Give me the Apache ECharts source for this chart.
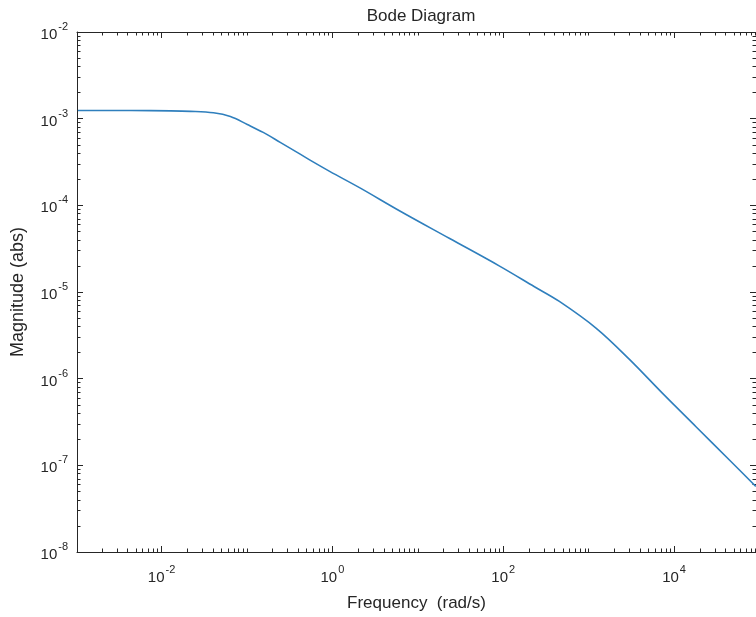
<!DOCTYPE html>
<html>
<head>
<meta charset="utf-8">
<title>Bode Diagram</title>
<script src="https://cdn.jsdelivr.net/npm/echarts@6/dist/echarts.min.js"></script>
<style>
  html, body { margin: 0; padding: 0; background: #ffffff; }
  #chart { width: 756px; height: 617px; }
</style>
</head>
<body>
<div id="chart"></div>
<script>
// Frequency response samples: angular frequency (rad/s) and magnitude (abs)
const frequency = [
  0.001047, 0.00435, 0.01274, 0.0218, 0.0405, 0.0639, 0.1009, 0.155,
  0.245, 0.387, 0.594, 0.939, 2.10, 6.16, 23.6, 90.6,
  232, 454, 1228, 2982, 7239, 18055, 43840, 90570
];
const magnitude = [
  1.241e-3, 1.241e-3, 1.231e-3, 1.215e-3, 1.168e-3, 1.059e-3, 8.57e-4, 6.94e-4,
  5.33e-4, 4.09e-4, 3.17e-4, 2.45e-4, 1.59e-4, 8.61e-5, 4.14e-5, 1.99e-5,
  1.15e-5, 7.78e-6, 3.81e-6, 1.681e-6, 6.85e-7, 2.79e-7, 1.166e-7, 5.72e-8
];

// Decade exponents that carry a tick label
const xLabelExponents = [-2, 0, 2, 4];
const yLabelExponents = [-8, -7, -6, -5, -4, -3, -2];

// Visible range of each axis, in decades
const xRange = [-2.990, 4.959];
const yRange = [-8, -2];

// Decade ticks and 2..9 sub-decade ticks inside a range (log10 units)
function decadeTicks(lo, hi) {
  const out = [];
  for (let d = Math.floor(lo); d <= Math.ceil(hi); d++) {
    if (d >= lo - 1e-9 && d <= hi + 1e-9) out.push(d);
  }
  return out;
}
function subDecadeTicks(lo, hi) {
  const out = [];
  for (let d = Math.floor(lo) - 1; d <= Math.ceil(hi); d++) {
    for (let k = 2; k <= 9; k++) {
      const v = d + Math.log10(k);
      if (v > lo && v < hi) out.push(v);
    }
  }
  return out;
}

const xMinorVals = subDecadeTicks(xRange[0], xRange[1]).concat(
  decadeTicks(xRange[0], xRange[1]).filter(v => xLabelExponents.indexOf(v) < 0));
const yMinorVals = subDecadeTicks(yRange[0], yRange[1]);

const INK = '#262626';
const FONT = '"Liberation Sans", Arial, Helvetica, sans-serif';

// "10" with a raised exponent
const powerRich = {
  b: { fontSize: 15, fontFamily: FONT, color: INK, lineHeight: 21, verticalAlign: 'bottom' },
  s: { fontSize: 11, fontFamily: FONT, color: INK, lineHeight: 21, verticalAlign: 'top', padding: [0, 0, 0, 1] }
};
function powerLabel(v) {
  return '{b|10}{s|' + Math.round(v) + '}';
}

function axisBase(range) {
  return {
    type: 'value',
    min: range[0],
    max: range[1],
    gridIndex: 0,
    splitLine: { show: false },
    animation: false
  };
}

// Major ticks (with or without labels) on one side of the box
function majorAxis(range, position, ticks, withLabels, labelMargin, extra) {
  return Object.assign(axisBase(range), {
    position: position,
    axisLine: { show: true, onZero: false, lineStyle: { color: INK, width: 1 } },
    axisTick: { show: true, inside: true, length: 6, customValues: ticks, lineStyle: { color: INK, width: 1 } },
    axisLabel: withLabels ? {
      show: true,
      customValues: ticks,
      formatter: powerLabel,
      rich: powerRich,
      margin: labelMargin
    } : { show: false }
  }, extra || {});
}

// Sub-decade ticks on one side of the box
function minorAxis(range, position, ticks) {
  return Object.assign(axisBase(range), {
    position: position,
    axisLine: { show: false, onZero: false },
    axisTick: { show: true, inside: true, length: 3.5, customValues: ticks, lineStyle: { color: INK, width: 1 } },
    axisLabel: { show: false }
  });
}

const xMajorAll = decadeTicks(xRange[0], xRange[1]).filter(v => xLabelExponents.indexOf(v) >= 0);
const yMajorAll = decadeTicks(yRange[0], yRange[1]);

const curve = frequency.map((f, i) => [Math.log10(f), Math.log10(magnitude[i])]);

const chart = echarts.init(document.getElementById('chart'), null, { renderer: 'canvas' });

chart.setOption({
  backgroundColor: '#ffffff',
  animation: false,
  title: {
    text: 'Bode Diagram',
    left: 416,
    top: 3,
    textAlign: 'center',
    textStyle: { fontFamily: FONT, fontSize: 17, fontWeight: 'normal', color: INK }
  },
  grid: { left: 77, top: 32, width: 680, height: 523, containLabel: false },
  xAxis: [
    majorAxis(xRange, 'bottom', xMajorAll, true, 12, {
      name: 'Frequency  (rad/s)',
      nameLocation: 'middle',
      nameGap: 43,
      nameTextStyle: { fontFamily: FONT, fontSize: 17, color: INK }
    }),
    minorAxis(xRange, 'bottom', xMinorVals),
    majorAxis(xRange, 'top', xMajorAll, false, 0),
    minorAxis(xRange, 'top', xMinorVals)
  ],
  yAxis: [
    majorAxis(yRange, 'left', yMajorAll, true, 9, {
      name: 'Magnitude (abs)',
      nameLocation: 'middle',
      nameGap: 50,
      nameTextStyle: { fontFamily: FONT, fontSize: 18, color: INK }
    }),
    minorAxis(yRange, 'left', yMinorVals),
    majorAxis(yRange, 'right', yMajorAll, false, 0),
    minorAxis(yRange, 'right', yMinorVals)
  ],
  series: [{
    type: 'line',
    xAxisIndex: 0,
    yAxisIndex: 0,
    data: curve,
    smooth: 0.35,
    showSymbol: false,
    clip: true,
    lineStyle: { color: '#2f7fbd', width: 1.6 }
  }]
});
</script>
</body>
</html>
